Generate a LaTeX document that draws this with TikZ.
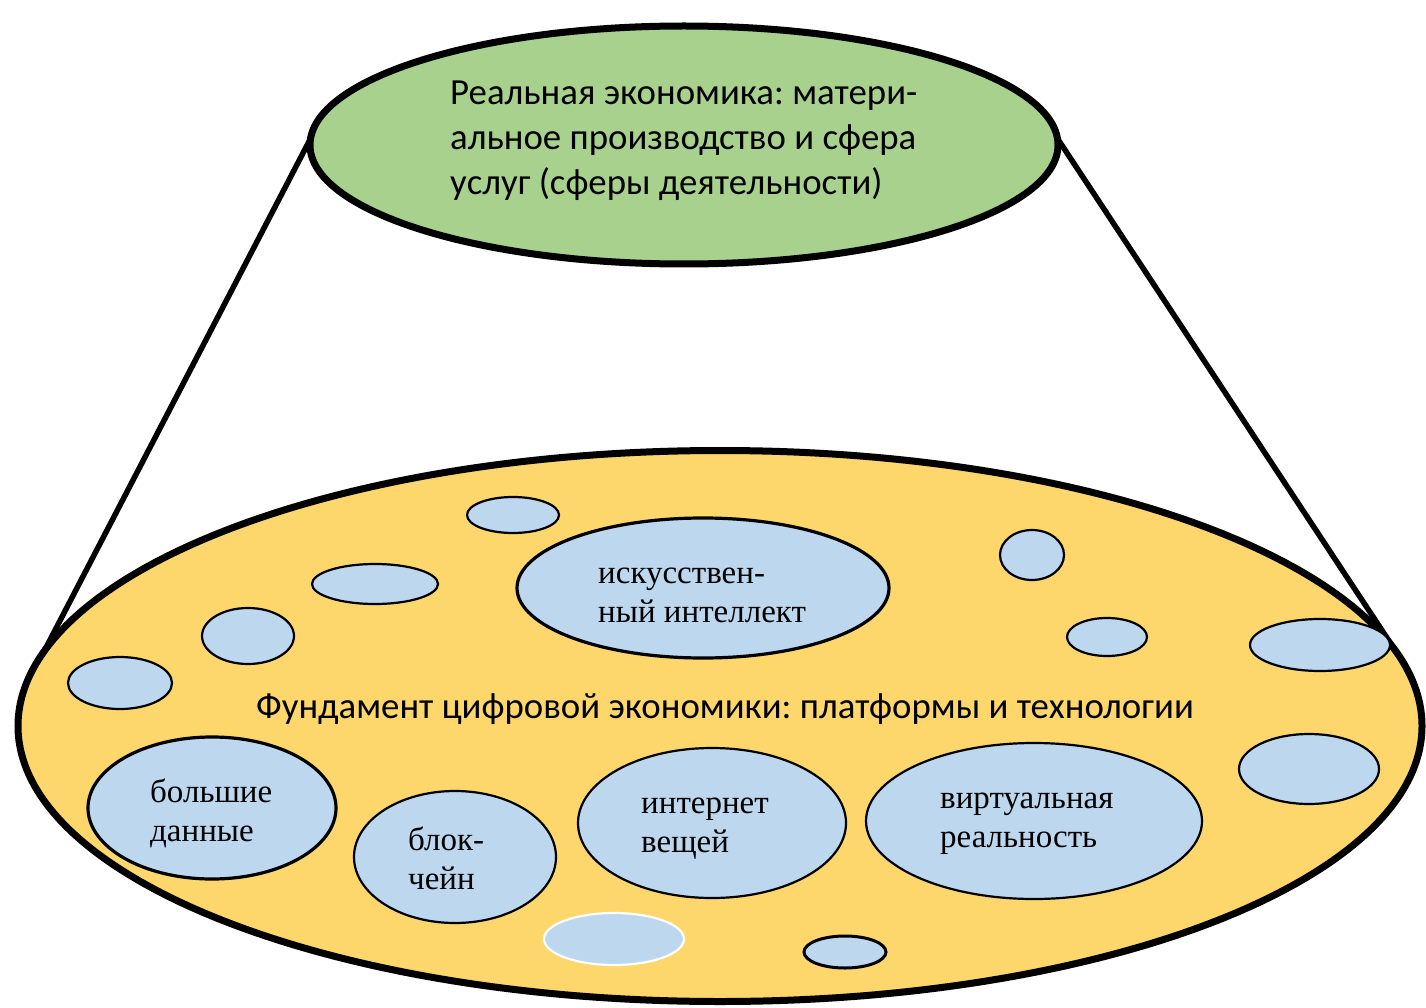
\documentclass[tikz,border=0pt]{standalone}
\usepackage{fontspec}
\setmainfont{Liberation Serif}
\newfontfamily\calib{Carlito}
\usetikzlibrary{shapes.geometric,backgrounds}
\definecolor{greenF}{HTML}{A9D18E}
\definecolor{yellowF}{HTML}{FDD76B}
\definecolor{blueF}{HTML}{BDD7EE}
\frenchspacing
\tikzset{
  oval/.style={ellipse, inner sep=0pt, outer sep=0pt},
  bub/.style={oval, draw=black, line width=2.2pt, fill=blueF},
  bigbub/.style={oval, draw=black, line width=3.2pt, fill=blueF},
  ltext/.style={align=left, anchor=west, inner sep=0pt, font=\fontsize{33}{39}\selectfont},
  stext/.style={inner sep=0pt, font=\calib\fontsize{36.8}{45}\selectfont},
  conline/.style={line width=5.5pt},
}
\begin{document}
\begin{tikzpicture}[x=1pt,y=-1pt]
\useasboundingbox (0,0) rectangle (1426,1008);
% top and base ellipses
\node[oval, draw=black, line width=7pt, fill=greenF, minimum width=748pt, minimum height=238pt] (top) at (684,145) {};
\node[oval, draw=black, line width=7pt, fill=yellowF, minimum width=1404pt, minimum height=551pt] (base) at (720,726) {};
\begin{pgfonlayer}{background}
\draw[conline] (top.179) -- (base.177);
\draw[conline] (top.1) -- (base.6.5);
\end{pgfonlayer}

% small bubbles
\node[bub, minimum width=92pt, minimum height=36pt] (b1) at (513,515) {};
\node[bub, minimum width=126pt, minimum height=40pt] (b2) at (375,584) {};
\node[bub, minimum width=92pt, minimum height=56pt] (b3) at (248,636) {};
\node[bub, minimum width=104pt, minimum height=52pt] (b4) at (120,683) {};
\node[bub, minimum width=64pt, minimum height=50pt] (b6) at (1032,555) {};
\node[bub, minimum width=80pt, minimum height=38pt] (b7) at (1107,637) {};
\node[bub, minimum width=140pt, minimum height=52pt] (b8) at (1320,645) {};
\node[bub, minimum width=140pt, minimum height=70pt] (b9) at (1309,769) {};
\node[oval, draw=white, line width=2.2pt, fill=blueF, minimum width=140pt, minimum height=52pt] (b14) at (614,939) {};
\node[bub, line width=3pt, minimum width=82pt, minimum height=32pt] (b15) at (845,952) {};

% labelled bubbles
\node[bigbub, minimum width=372pt, minimum height=140pt] (ai) at (703,588) {};
\node[bigbub, minimum width=248pt, minimum height=142pt] (bd) at (212,808) {};
\node[bub, minimum width=202pt, minimum height=132pt] (bc) at (455,857) {};
\node[bub, minimum width=268pt, minimum height=150pt] (iot) at (712,823) {};
\node[bub, minimum width=336pt, minimum height=156pt] (vr) at (1034,821) {};

% texts
\node[stext, align=left, anchor=west] (toptext) at (450,141) {Реальная экономика: матери-\\альное производство и сфера\\услуг (сферы деятельности)};
\node[stext] (basetext) at (725,709) {Фундамент цифровой экономики: платформы и технологии};
\node[ltext] (aitext) at (598,595) {искусствен-\\ный интеллект};
\node[ltext] (bdtext) at (150,813) {большие\\данные};
\node[ltext] (bctext) at (408,858) {блок-\\чейн};
\node[ltext] (iottext) at (641,829) {интернет\\вещей};
\node[ltext] (vrtext) at (940,824) {виртуальная\\реальность};
\end{tikzpicture}
\end{document}
